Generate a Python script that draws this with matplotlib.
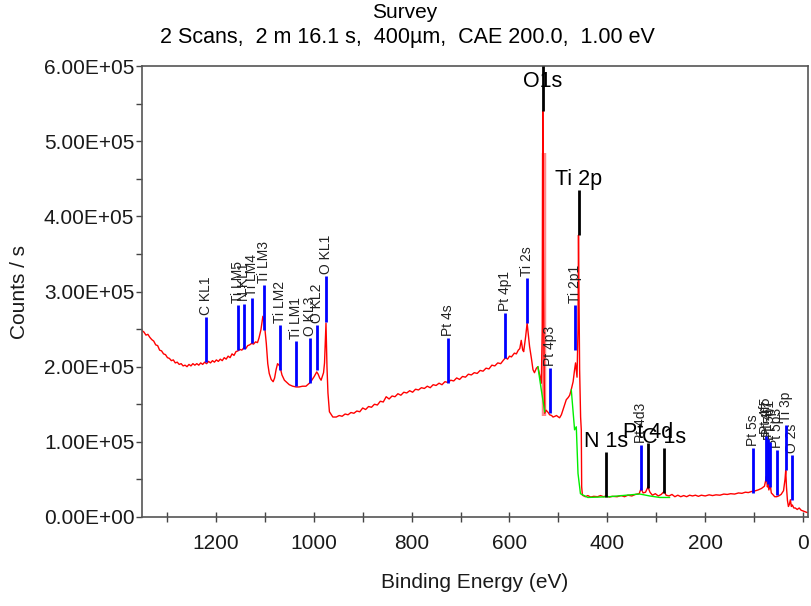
import matplotlib
matplotlib.use("Agg")
import matplotlib.pyplot as plt
from matplotlib.ticker import FuncFormatter, MultipleLocator

plt.rcParams['font.family'] = ['Liberation Sans', 'DejaVu Sans']

# survey spectrum (binding energy eV, counts/s in thousands)
be = [1351, 1347, 1343, 1339, 1335, 1331, 1327, 1323, 1319, 1315, 1311, 1307, 1303,
      1299, 1295, 1291, 1287, 1283, 1279, 1275, 1271, 1267, 1263, 1259, 1255, 1251,
      1247, 1243, 1239, 1235, 1231, 1227, 1223, 1219, 1215, 1211, 1207, 1203, 1199,
      1195, 1191, 1187, 1183, 1179, 1175, 1171, 1167, 1163, 1159, 1155, 1151, 1147,
      1143, 1139, 1135, 1131, 1127, 1123, 1119, 1115, 1112,
      1108, 1104, 1101, 1097, 1094, 1091, 1087, 1083, 1080, 1077, 1074, 1071, 1069,
      1065, 1060, 1050, 1043, 1036, 1030, 1023, 1016, 1009, 1004, 999, 994, 991, 988,
      985, 980, 978, 976, 975, 973, 971, 968, 961,
      954, 948, 942, 936, 930, 924, 918, 912, 906, 900, 894, 888, 882, 876, 870, 864,
      858, 852, 846, 840, 834, 828, 822, 816, 810, 804, 798, 792, 786, 780, 774, 768,
      762, 756, 750, 744, 738, 732, 726, 720, 714, 708, 702, 696, 690, 684, 678, 672,
      666, 660, 654, 648, 642, 636, 630, 624, 618, 612, 608, 604, 600, 596, 590, 586,
      582, 579, 576, 573, 571, 567, 564, 561, 559, 555, 552, 549, 545, 542,
      538, 535, 533, 532, 530.5, 529, 528, 525, 521, 518, 514, 511, 507, 504, 500,
      497.6, 494, 491, 487, 484, 480, 477, 474, 470, 467, 465, 463, 462, 460, 459,
      458, 456.7, 454.7, 453.3, 452.5, 451,
      445, 440, 434, 428, 420, 414, 408, 402, 396, 390, 380, 372, 365, 358, 350, 343,
      335, 331, 327, 322, 317, 313, 308, 302, 296, 290, 284, 280, 274, 268, 262, 256,
      250, 244, 238, 232, 226, 220, 214, 208, 200, 192, 185, 178, 170, 162, 155, 148,
      140, 132, 125, 118, 112, 105, 102, 97, 92, 85, 79, 76, 75, 73, 71.5, 70, 67, 65,
      62, 58, 54, 50, 45, 40, 37, 35.5, 34, 32, 30, 28, 26, 24, 22, 19, 16, 12, 8, 4,
      0, -4, -8, -10]
counts = [248, 246, 242, 243, 239, 236, 234, 229, 228, 222, 221, 217, 216,
          212, 211, 208, 209, 205, 206, 203, 204, 201, 202, 200, 203, 201,
          204, 202, 204, 202, 205, 203, 206, 204, 207, 205, 208, 206, 209,
          207, 210, 208, 212, 210, 214, 212, 217, 215, 220, 221, 223, 222,
          225, 224, 228, 229, 231, 230, 233, 232, 238,
          249, 267, 258, 231, 204, 191, 183, 180, 185, 196, 204, 202, 200,
          189, 182, 176, 174, 173, 173, 174, 174, 178, 182, 187, 193, 190, 185,
          182, 192, 205, 240, 258, 200, 165, 140, 133,
          133, 135, 134, 137, 136, 139, 138, 141, 140, 145, 143, 147, 146, 150, 149, 154,
          153, 160, 157, 161, 160, 164, 162, 166, 165, 168, 166, 170, 169, 172, 171, 174,
          172, 176, 175, 178, 176, 180, 179, 182, 181, 185, 183, 187, 186, 190, 189, 192,
          191, 195, 194, 198, 197, 202, 201, 205, 204, 209, 212, 210, 214, 213, 218, 217,
          222, 224, 235, 222, 220, 240, 258, 240, 227, 210, 196, 192, 198, 200,
          188, 178, 250, 540, 300, 180, 138, 142, 139, 136, 135, 133, 134, 135, 133,
          132, 136, 142, 150, 156, 159, 162, 169, 180, 196, 205, 192, 186, 250, 375,
          300, 196, 133, 116, 40, 29,
          27, 28.5, 26.5, 27.5, 27, 28.5, 27, 28, 26.5, 27.5, 27, 28.5, 27, 29, 28, 30,
          31, 38, 32, 33, 40, 33, 29, 31, 28, 30, 34, 29, 28, 30, 27, 29,
          27, 28.5, 27, 29, 28, 29, 27.5, 29, 28, 29.5, 28.5, 29.5, 29, 30.5, 30, 31,
          30.5, 32, 31.5, 33, 32.5, 34, 34, 35, 36, 38, 41, 50, 54, 40, 44, 36, 42, 32,
          30, 27, 27, 28, 30, 35, 50, 62, 40, 22, 14, 17, 23, 14, 16, 12, 12, 10, 12, 9,
          8, 7, 6, 6]

# background lines of the fitted regions
bg_o1s_be = [542, 535, 528]
bg_o1s_counts = [200, 169, 140]
bg_ti_be = [473.7, 467, 463.5, 460, 455, 440, 396, 361, 334, 313.6, 293, 273]
bg_ti_counts = [169, 116, 120, 58, 31, 26, 27, 29, 30.6, 28, 26, 26]

# large black peak labels
main_names = ['O1s', 'Ti 2p', 'N 1s', 'Pt 4d', 'C 1s']
main_be = [531.8, 458.8, 402, 317, 284]
main_base = [540, 375, 27, 38, 32]

# small blue line labels
line_names = ['C KL1', 'Ti LM5', 'N KL1', 'Ti LM4', 'Ti LM3', 'Ti LM2', 'Ti LM1',
              'O KL3', 'O KL2', 'O KL1', 'Pt 4s', 'Pt 4p1', 'Ti 2s', 'Pt 4p3',
              'Ti 2p1', 'Pt 4d3', 'Pt 5s', 'Pt 4f5', 'Pt 4f7', 'Pt 5p1', 'Pt 5p3',
              'Ti 3p', 'O 2s']
line_be = [1220, 1154, 1142, 1126, 1102.5, 1069, 1036, 1007.5, 994, 975, 726, 608.7,
           565, 518, 465.5, 330.5, 102, 75, 72, 68, 53, 35.5, 22.5]
line_base = [206, 222, 224, 231, 249, 195, 174, 178, 195, 260, 178, 211, 258, 138,
             222, 36, 32, 48, 44, 40, 29, 63, 23]

marker_len = 60  # thousands of counts

fig = plt.figure(figsize=(8.11, 6.06), dpi=100)
ax = fig.add_axes([142 / 811, 89 / 606, 666 / 811, 451 / 606])

k = 1000.0
ax.plot([529.6, 529.6], [135 * k, 484 * k], color='#ff8a8a', lw=3.2, zorder=1,
        solid_capstyle='butt')
ax.plot(be, [c * k for c in counts], color='#ff0000', lw=1, zorder=2)
ax.plot(bg_o1s_be, [c * k for c in bg_o1s_counts], color='#00ee00', lw=1, zorder=3)
ax.plot(bg_ti_be, [c * k for c in bg_ti_counts], color='#00ee00', lw=1, zorder=3)

for name, x, b in zip(line_names, line_be, line_base):
    top = (b + marker_len) * k
    ax.plot([x, x], [b * k, top], color='#0000ff', lw=2, zorder=4,
            solid_capstyle='butt')
    ax.annotate(name, (x, top), xytext=(0, 1.5), textcoords='offset points',
                rotation=90, ha='center', va='bottom', fontsize=10, color='#222222')

for name, x, b in zip(main_names, main_be, main_base):
    top = (b + marker_len) * k
    ax.plot([x, x], [b * k, min(top, 600 * k)], color='black', lw=2, zorder=5,
            solid_capstyle='butt', clip_on=False)
    ax.text(x, min(top, 565 * k), name, ha='center', va='bottom', fontsize=15.5,
            color='black', zorder=6)

ax.set_xlim(1351, -10)
ax.set_ylim(0, 6e5)

ax.xaxis.set_major_locator(MultipleLocator(200))
ax.xaxis.set_minor_locator(MultipleLocator(100))
ax.yaxis.set_major_locator(MultipleLocator(1e5))
ax.yaxis.set_minor_locator(MultipleLocator(5e4))
ax.yaxis.set_major_formatter(FuncFormatter(lambda v, p: f"{v:.2E}"))

ax.tick_params(axis='x', which='both', direction='inout', length=7, width=1,
               color='#444444', labelsize=15, pad=9, labelcolor='#1a1a1a')
ax.tick_params(axis='y', which='both', direction='out', length=4, width=1,
               color='#444444', labelsize=15, pad=1.5, labelcolor='#1a1a1a')
for s in ax.spines.values():
    s.set_color('#555555')
    s.set_linewidth(1.2)

fig.text(405 / 811, 1 - 13 / 606, 'Survey', ha='center', va='center', fontsize=15)
fig.text(407 / 811, 1 - 38 / 606, '2 Scans,  2 m 16.1 s,  400µm,  CAE 200.0,  1.00 eV',
         ha='center', va='center', fontsize=15.5)
fig.text(475 / 811, 1 - 582 / 606, 'Binding Energy (eV)', ha='center', va='center',
         fontsize=15, color='#1a1a1a')
fig.text(20 / 811, 1 - 292 / 606, 'Counts / s', ha='center', va='center',
         rotation=90, fontsize=15, color='#1a1a1a')

fig.savefig('out.png', dpi=100)
